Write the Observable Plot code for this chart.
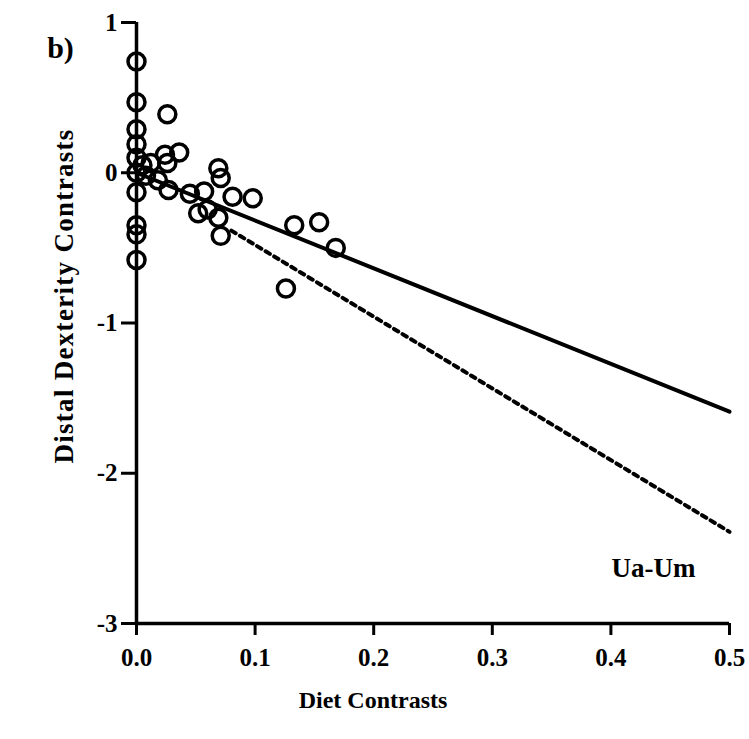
<!DOCTYPE html>
<html><head><meta charset="utf-8">
<script src="https://cdn.jsdelivr.net/npm/d3@7"></script>
<script src="https://cdn.jsdelivr.net/npm/@observablehq/plot@0.6"></script>
<style>body{margin:0;background:#fff}</style>
</head><body><div id="wrap"></div>
<script>
// Scatter points (Diet contrasts vs Distal dexterity contrasts)
const dietX = [0, 0, 0, 0, 0, 0, 0, 0, 0, 0,
  0.005, 0.012, 0.024, 0.026, 0.036, 0.026, 0.008, 0.018, 0.027, 0.045,
  0.057, 0.069, 0.071, 0.081, 0.098, 0.052, 0.060, 0.069, 0.071,
  0.133, 0.154, 0.168, 0.126];
const dexY = [0.74, 0.47, 0.29, 0.19, 0.10, 0.0, -0.13, -0.35, -0.41, -0.58,
  0.05, 0.065, 0.12, 0.065, 0.135, 0.39, -0.02, -0.05, -0.115, -0.14,
  -0.125, 0.03, -0.035, -0.16, -0.17, -0.27, -0.245, -0.30, -0.42,
  -0.35, -0.33, -0.50, -0.77];
// Regression lines
const solidX = [0, 0.5];
const solidY = [0, -1.59];
const dashedX = [0.08, 0.5];
const dashedY = [-0.385, -2.39];
// Ticks
const xTicks = [0, 0.1, 0.2, 0.3, 0.4, 0.5];
const yTicks = [1, 0, -1, -2, -3];
const xTitle = "Diet Contrasts";
const yTitle = "Distal Dexterity Contrasts";
const seriesLabel = "Ua-Um";
const panelLabel = "b)";

const points = dietX.map((x, i) => ({x, y: dexY[i]}));
const solid = solidX.map((x, i) => ({x, y: solidY[i]}));
const dashed = dashedX.map((x, i) => ({x, y: dashedY[i]}));

const font = "Liberation Serif, Times New Roman, serif";
const chart = Plot.plot({
  width: 749, height: 739,
  marginLeft: 136, marginRight: 20, marginTop: 22, marginBottom: 116,
  x: {domain: [0, 0.5]},
  y: {domain: [-3, 1]},
  style: {fontFamily: font, fontWeight: "bold", fontSize: "25px", color: "#000", background: "#fff"},
  marks: [
    Plot.ruleY([-3], {stroke: "#000", strokeWidth: 3.5}),
    Plot.ruleX([0], {stroke: "#000", strokeWidth: 3.5}),
    Plot.axisX({ticks: xTicks, tickFormat: d3.format(".1f"), tickSize: 12, tickPadding: 13,
      strokeWidth: 3, label: null, fontSize: 25}),
    Plot.axisY({ticks: yTicks, tickFormat: d => String(d), tickSize: 15, tickPadding: 4,
      strokeWidth: 3, label: null, fontSize: 25}),
    Plot.line(solid, {x: "x", y: "y", stroke: "#000", strokeWidth: 4}),
    Plot.line(dashed, {x: "x", y: "y", stroke: "#000", strokeWidth: 4, strokeDasharray: "5,5"}),
    Plot.dot(points, {x: "x", y: "y", r: 8.5, stroke: "#000", strokeWidth: 3.5, fill: "none"}),
    Plot.text([xTitle], {text: d => d, frameAnchor: "bottom", textAnchor: "middle", dx: -60, dy: 77, lineAnchor: "middle",
      fontSize: 24, fontWeight: "bold"}),
    Plot.text([yTitle], {text: d => d, frameAnchor: "left", textAnchor: "middle", rotate: -90, dx: -72, dy: -27, lineAnchor: "middle",
      fontSize: 27, fontWeight: "bold", className: "ytitle"}),
    Plot.text([seriesLabel], {text: d => d, frameAnchor: "bottom-right", textAnchor: "middle", dx: -76, dy: -55, lineAnchor: "middle",
      fontSize: 27, fontWeight: "bold"}),
    Plot.text([panelLabel], {text: d => d, frameAnchor: "top-left", textAnchor: "middle", dx: -76, dy: 26, lineAnchor: "middle",
      fontSize: 30, fontWeight: "bold"})
  ]
});
chart.querySelectorAll(".ytitle text").forEach(t => t.setAttribute("letter-spacing", "1.3"));
document.getElementById("wrap").appendChild(chart);
</script>
</body></html>
